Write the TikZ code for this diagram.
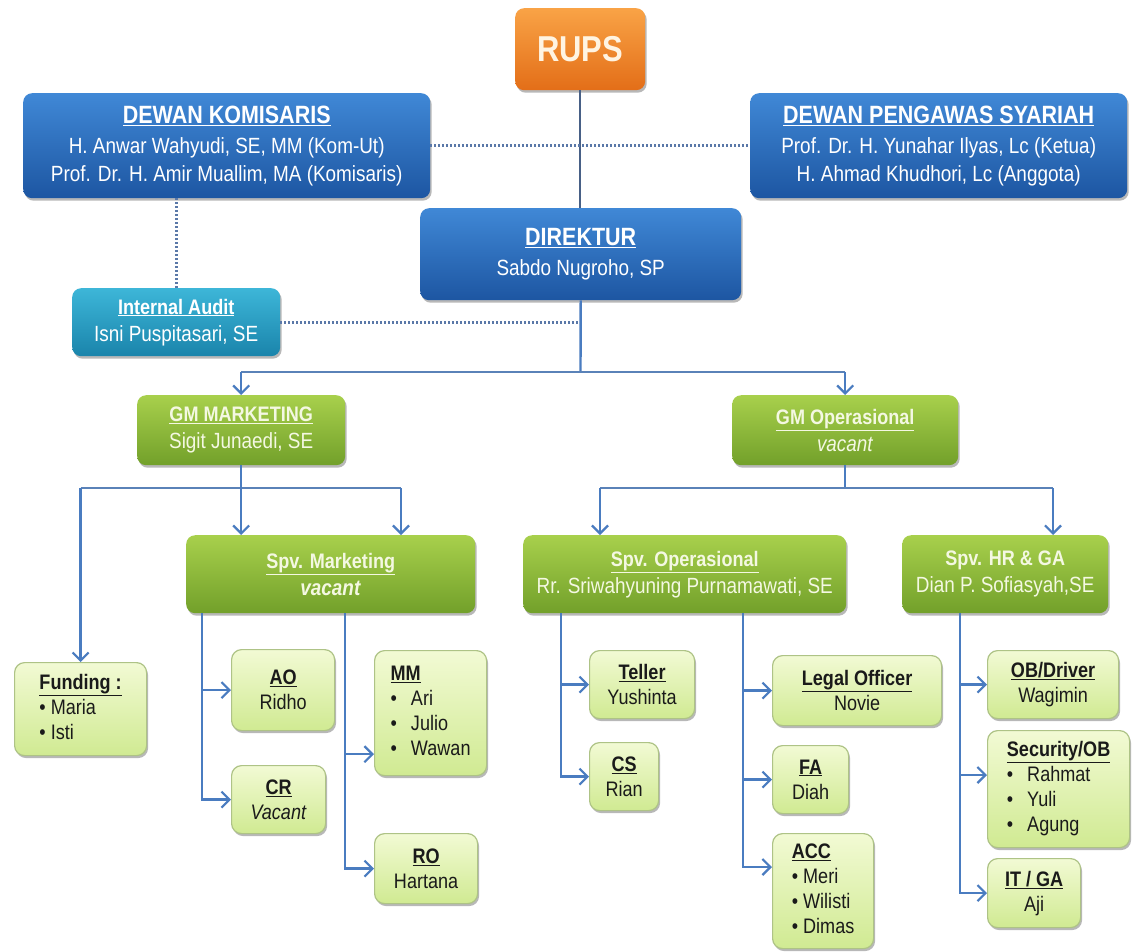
\documentclass[tikz,border=0pt]{standalone}
\usepackage{fontspec}
\setmainfont{Liberation Sans}[FakeStretch=0.86]
\usetikzlibrary{arrows.meta,shadows,calc}
\definecolor{blueT}{HTML}{4088D6}
\definecolor{blueB}{HTML}{1D56A2}
\definecolor{tealT}{HTML}{3DB6D8}
\definecolor{tealB}{HTML}{1A84AB}
\definecolor{orT}{HTML}{F9A346}
\definecolor{orB}{HTML}{E36E18}
\definecolor{grT}{HTML}{A8D04C}
\definecolor{grB}{HTML}{72A02A}
\definecolor{lgT}{HTML}{F2FAD4}
\definecolor{lgB}{HTML}{D0EA92}
\definecolor{lgD}{HTML}{AEC386}
\definecolor{conn}{HTML}{4A7CC0}
\definecolor{connH}{HTML}{5A82B8}
\definecolor{dotc}{HTML}{5A78A8}
\definecolor{cream}{HTML}{F4F8E2}
\definecolor{rupsTxt}{HTML}{FFF4E2}
\definecolor{darkTxt}{HTML}{1A1A1A}
\newcommand\ttlA[1]{{\fontsize{25}{28}\selectfont\underline{\textbf{#1}}}}
\newcommand\ttlB[1]{{\fontsize{21}{27}\selectfont\underline{\textbf{#1}}}}
\newcommand\ttlC[1]{\underline{\textbf{#1}}}
\begin{document}
\begin{tikzpicture}[x=1pt,y=-1pt,
  box/.style n args={4}{anchor=north west, at={(#1,#2)}, minimum width={#3-#1}, minimum height={#4-#2}, inner sep=0pt, align=center},
  shad/.style={drop shadow={shadow xshift=1.5pt,shadow yshift=-2.5pt,opacity=0.28,fill=black}},
  orbox/.style={rounded corners=9pt, top color=orT, bottom color=orB, draw=none, shad, text=rupsTxt, font=\fontsize{36}{40}\selectfont\bfseries},
  bluebox/.style={rounded corners=9pt, top color=blueT, bottom color=blueB, draw=none, shad, text=white, font=\fontsize{22}{28}\selectfont},
  tealbox/.style={rounded corners=9pt, top color=tealT, bottom color=tealB, draw=none, shad, text=white, font=\fontsize{22}{27}\selectfont},
  greenbox/.style={rounded corners=9pt, top color=grT, bottom color=grB, draw=none, shad, text=cream, font=\fontsize{22}{27}\selectfont},
  lightbox/.style={rounded corners=10pt, top color=lgT, bottom color=lgB, draw=lgD, line width=1.2pt, shad, text=darkTxt, font=\fontsize{21}{25}\selectfont},
  arr/.style={draw=conn, line width=2.4pt, -{Straight Barb[length=8pt,width=16pt,line width=2.2pt]}},
  vline/.style={draw=conn, line width=2.4pt},
  hline/.style={draw=connH, line width=1.6pt},
  dotl/.style={draw=dotc, line width=2.6pt, dash pattern=on 1.8pt off 2.2pt},
  thinc/.style={draw=dotc!80!black, line width=1.8pt}
]
\useasboundingbox (0,0) rectangle (1132,951);
\fill[white] (0,0) rectangle (1132,951);

% top level
\node[orbox, box={515}{8}{645}{90}] (rups) {RUPS};
\node[bluebox, box={23}{93}{430}{198}] (dk) {\ttlA{DEWAN KOMISARIS}\\[2pt] H. Anwar Wahyudi, SE, MM (Kom-Ut)\\ Prof. Dr. H. Amir Muallim, MA (Komisaris)};
\node[bluebox, box={750}{93}{1127}{198}] (dps) {\ttlA{DEWAN PENGAWAS SYARIAH}\\[2pt] Prof. Dr. H. Yunahar Ilyas, Lc (Ketua)\\ H. Ahmad Khudhori, Lc (Anggota)};
\node[bluebox, box={420}{208}{741}{300}] (dir) {\ttlA{DIREKTUR}\\[2pt] Sabdo Nugroho, SP};
\node[tealbox, box={72}{288}{280}{356}] (ia) {\ttlB{Internal Audit}\\ Isni Puspitasari, SE};

% GM level
\node[greenbox, box={137}{395}{345}{465}] (gmm) {\ttlB{GM MARKETING}\\ Sigit Junaedi, SE};
\node[greenbox, box={732}{395}{958}{465}] (gmo) {\ttlB{GM Operasional}\\ \textit{vacant}};

% supervisors
\node[greenbox, box={186}{535}{475}{613}] (spvm) {\ttlB{Spv. Marketing}\\ \textbf{\textit{vacant}}};
\node[greenbox, box={523}{535}{846}{613}] (spvo) {\ttlB{Spv. Operasional}\\ Rr. Sriwahyuning Purnamawati, SE};
\node[greenbox, box={902}{535}{1108}{613}] (spvhr) {{\fontsize{21}{27}\selectfont\textbf{Spv. HR \& GA}}\\ Dian P. Sofiasyah,SE};

% staff
\node[lightbox, box={14}{662}{146}{755}] (fund) {\begin{tabular}{@{}l@{}}\multicolumn{1}{@{}c@{}}{\ttlC{Funding :}}\\ \textbullet\ Maria\\ \textbullet\ Isti\end{tabular}};
\node[lightbox, box={231}{649}{334}{730}] (ao) {\ttlC{AO}\\ Ridho};
\node[lightbox, box={231}{765}{325}{833}] (cr) {\ttlC{CR}\\ \textit{Vacant}};
\node[lightbox, box={374}{650}{486}{775}] (mm) {\begin{tabular}{@{}l@{}}\ttlC{MM}\\ \textbullet\hspace{14pt}Ari\\ \textbullet\hspace{14pt}Julio\\ \textbullet\hspace{14pt}Wawan\end{tabular}};
\node[lightbox, box={374}{833}{477}{903}] (ro) {\ttlC{RO}\\ Hartana};
\node[lightbox, box={589}{650}{694}{718}] (teller) {\ttlC{Teller}\\ Yushinta};
\node[lightbox, box={589}{742}{658}{810}] (cs) {\ttlC{CS}\\ Rian};
\node[lightbox, box={772}{655}{941}{725}] (legal) {\ttlC{Legal Officer}\\ Novie};
\node[lightbox, box={772}{745}{848}{813}] (fa) {\ttlC{FA}\\ Diah};
\node[lightbox, box={772}{833}{873}{948}] (acc) {\begin{tabular}{@{}l@{}}\ttlC{ACC}\\ \textbullet\ Meri\\ \textbullet\ Wilisti\\ \textbullet\ Dimas\end{tabular}};
\node[lightbox, box={987}{650}{1118}{718}] (ob) {\ttlC{OB/Driver}\\ Wagimin};
\node[lightbox, box={987}{730}{1129}{847}] (sec) {\begin{tabular}{@{}l@{}}\multicolumn{1}{@{}c@{}}{\ttlC{Security/OB}}\\ \textbullet\hspace{14pt}Rahmat\\ \textbullet\hspace{14pt}Yuli\\ \textbullet\hspace{14pt}Agung\end{tabular}};
\node[lightbox, box={987}{858}{1080}{927}] (it) {\ttlC{IT / GA}\\ Aji};

% connectors top
\draw[thinc] (rups.south) -- (rups.south |- dir.north);
\draw[dotl] (dk.east) -- (dps.west);
\draw[dotl] (ia.north |- dk.south) -- (ia.north);
\draw[dotl] (ia.east) -- (ia.east -| dir.south);
\coordinate (j1) at (580.5,372);
\draw[vline] (dir.south) -- (j1);
\draw[hline] (j1 -| gmm.north) -- (j1 -| gmo.north);
\draw[arr] (j1 -| gmm.north) -- (gmm.north);
\draw[arr] (j1 -| gmo.north) -- (gmo.north);

% GM marketing
\coordinate (j2) at (241,488);
\coordinate (a2) at (401,488);
\draw[hline] (fund.north |- j2) -- (a2);
\draw[arr] (gmm.south) -- (gmm.south |- spvm.north);
\draw[arr] (fund.north |- j2) -- (fund.north);
\draw[arr] (a2) -- (a2 |- spvm.north);

% GM operasional
\coordinate (b1) at (600,488);
\coordinate (b2) at (1053,488);
\draw[vline] (gmo.south) -- (gmo.south |- b1);
\draw[hline] (b1) -- (b2);
\draw[arr] (b1) -- (b1 |- spvo.north);
\draw[arr] (b2) -- (b2 |- spvhr.north);

% Spv marketing
\coordinate (mL) at (202,613);
\coordinate (mR) at (345,613);
\coordinate (mmIn) at ($(mm.south west)+(0,-22)$);
\draw[arr] (mL) |- (cr.west);
\draw[arr] (mL |- ao.west) -- (ao.west);
\draw[arr] (mR) |- (ro.west);
\draw[arr] (mR |- mmIn) -- (mmIn);

% Spv operasional
\coordinate (oL) at (561,613);
\coordinate (oM) at (743,613);
\coordinate (accIn) at ($(acc.north west)+(0,34)$);
\draw[arr] (oL) |- (cs.west);
\draw[arr] (oL |- teller.west) -- (teller.west);
\draw[arr] (oM) |- (accIn);
\draw[arr] (oM |- legal.west) -- (legal.west);
\draw[arr] (oM |- fa.west) -- (fa.west);

% Spv HR
\coordinate (hR) at (960,613);
\coordinate (secIn) at ($(sec.north west)+(0,45)$);
\draw[arr] (hR) |- (it.west);
\draw[arr] (hR |- ob.west) -- (ob.west);
\draw[arr] (hR |- secIn) -- (secIn);
\end{tikzpicture}
\end{document}
